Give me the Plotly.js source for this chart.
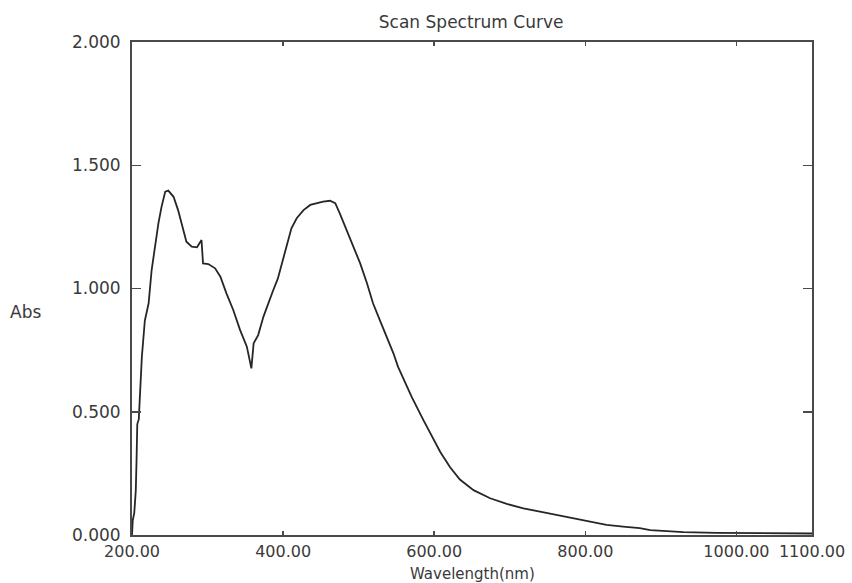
<!DOCTYPE html>
<html>
<head>
<meta charset="utf-8">
<script src="https://cdn.plot.ly/plotly-3.0.1.min.js"></script>
<style>html,body{margin:0;padding:0;background:#fff;}#chart{width:852px;height:583px;}</style>
</head>
<body>
<div id="chart"></div>
<script>
const wavelength = [200, 201, 203, 205, 206, 207, 209, 211, 212, 213, 217, 222, 226, 230, 235, 239, 244, 248, 255, 261, 268, 272, 279, 286, 292, 294, 301, 310, 317, 325, 334, 343, 352, 358, 361, 367, 374, 380, 387, 393, 400, 405, 411, 418, 427, 436, 444, 453, 462, 469, 475, 484, 493, 502, 511, 519, 528, 537, 546, 552, 570, 585, 597, 608, 621, 634, 652, 674, 696, 718, 740, 762, 784, 806, 828, 850, 872, 886, 908, 930, 974, 1018, 1060, 1100];
const absorbance = [0.00, 0.06, 0.09, 0.18, 0.30, 0.45, 0.47, 0.60, 0.66, 0.72, 0.87, 0.94, 1.075, 1.17, 1.265, 1.33, 1.393, 1.397, 1.372, 1.318, 1.237, 1.19, 1.17, 1.167, 1.197, 1.102, 1.099, 1.082, 1.048, 0.98, 0.913, 0.832, 0.764, 0.676, 0.778, 0.811, 0.886, 0.94, 0.994, 1.04, 1.12, 1.183, 1.244, 1.285, 1.318, 1.339, 1.346, 1.352, 1.356, 1.346, 1.305, 1.237, 1.17, 1.102, 1.021, 0.94, 0.872, 0.804, 0.737, 0.683, 0.561, 0.47, 0.40, 0.337, 0.275, 0.225, 0.182, 0.149, 0.126, 0.108, 0.095, 0.081, 0.068, 0.053, 0.041, 0.034, 0.028, 0.02, 0.016, 0.012, 0.009, 0.007, 0.006, 0.006];
const xTickVals = [200, 400, 600, 800, 1000, 1100];
const xTickText = ["200.00", "400.00", "600.00", "800.00", "1000.00", "1100.00"];
const yTickVals = [0, 0.5, 1.0, 1.5, 2.0];
const yTickText = ["0.000", "0.500", "1.000", "1.500", "2.000"];

const fam = "DejaVu Sans, Liberation Sans, Arial, sans-serif";
const txt = {family: fam, size: 17, color: "#3a3a3a"};

Plotly.newPlot("chart", [{
  x: wavelength, y: absorbance, type: "scatter", mode: "lines",
  line: {color: "#262626", width: 1.8}, hoverinfo: "skip"
}], {
  width: 852, height: 583,
  margin: {l: 132, r: 40, t: 42, b: 48},
  paper_bgcolor: "#fff", plot_bgcolor: "#fff",
  showlegend: false,
  font: txt,
  title: {text: "Scan Spectrum Curve", x: 0.553, xanchor: "center", y: 0.962, yanchor: "middle", font: txt},
  xaxis: {
    range: [200, 1100], tickvals: xTickVals, ticktext: xTickText,
    showgrid: false, zeroline: false, showline: true, linecolor: "#4a4a4a", linewidth: 2,
    mirror: "ticks", ticks: "inside", ticklen: 4, tickcolor: "#4a4a4a", tickwidth: 1.5,
    ticklabelstandoff: 1,
    tickfont: {family: fam, size: 16, color: "#3a3a3a"}
  },
  yaxis: {
    range: [0, 2], tickvals: yTickVals, ticktext: yTickText,
    showgrid: false, zeroline: false, showline: true, linecolor: "#4a4a4a", linewidth: 2,
    mirror: "ticks", ticks: "inside", ticklen: 9, tickcolor: "#4a4a4a", tickwidth: 1.5,
    ticklabelstandoff: 6,
    tickfont: txt
  },
  annotations: [
    {text: "Abs", xref: "paper", yref: "paper", x: -0.156, y: 0.452, xanchor: "center", yanchor: "middle",
     showarrow: false, font: txt},
    {text: "Wavelength(nm)", xref: "paper", yref: "paper", x: 0.5, y: -0.079, xanchor: "center", yanchor: "middle",
     showarrow: false, font: {family: fam, size: 15, color: "#3a3a3a"}}
  ]
}, {displayModeBar: false, staticPlot: true});
</script>
</body>
</html>
